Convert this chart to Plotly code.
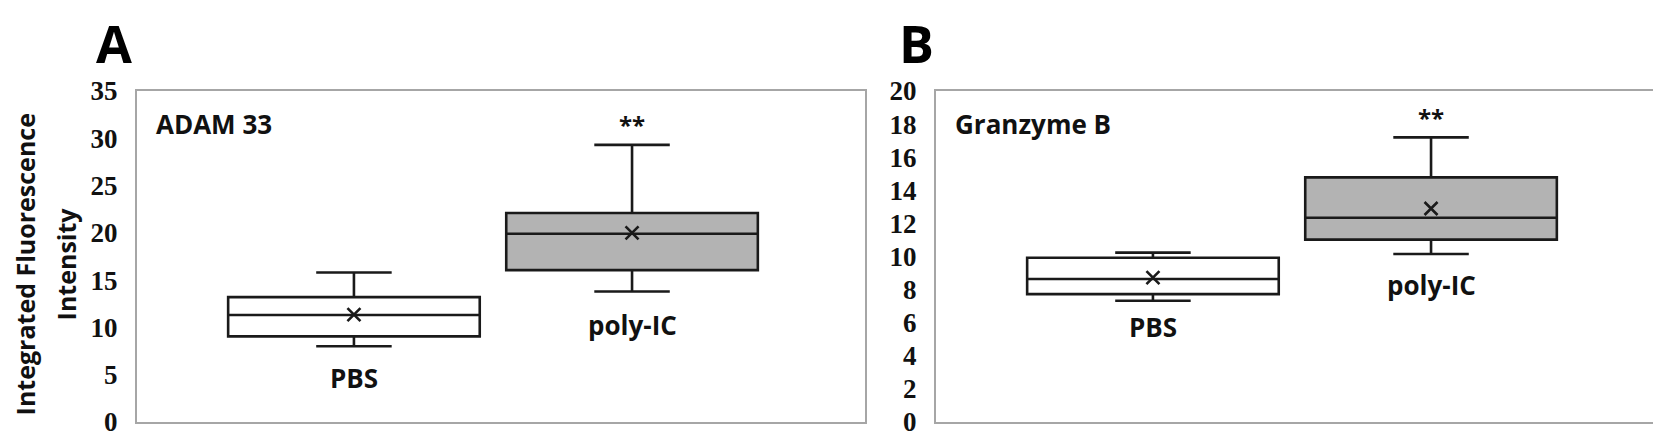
import plotly.graph_objects as go

groups = ["PBS", "poly-IC"]
group_pos = [0.298, 0.68]

# panel A: ADAM 33
adam_low = [8.0, 13.8]
adam_q1 = [9.05, 16.05]
adam_median = [11.3, 19.9]
adam_q3 = [13.2, 22.1]
adam_high = [15.8, 29.3]
adam_mean = [11.35, 20.0]

# panel B: Granzyme B
gzmb_low = [7.32, 10.15]
gzmb_q1 = [7.72, 11.02]
gzmb_median = [8.64, 12.34]
gzmb_q3 = [9.92, 14.78]
gzmb_high = [10.23, 17.2]
gzmb_mean = [8.72, 12.9]

fills = ["white", "#b3b3b3"]

FONT = "Open Sans"
fig = go.Figure()


def add_panel(fig, low, q1, med, q3, high, mean, xa, ya, title, shifts):
    for i, g in enumerate(groups):
        fig.add_trace(go.Box(
            x=[group_pos[i]], lowerfence=[low[i]], q1=[q1[i]], median=[med[i]],
            q3=[q3[i]], upperfence=[high[i]], width=0.3456, whiskerwidth=0.3,
            fillcolor=fills[i], line=dict(color="#1a1a1a", width=2.6),
            boxpoints=False, hoverinfo="skip", xaxis=xa, yaxis=ya, showlegend=False,
        ))
        fig.add_annotation(x=group_pos[i], y=low[i], xref=xa, yref=ya, text=g,
                           showarrow=False, yanchor="middle", yshift=shifts[i],
                           font=dict(family=FONT, size=26, color="#111", weight="bold"))
    fig.add_trace(go.Scatter(
        x=group_pos, y=mean, mode="markers", xaxis=xa, yaxis=ya, showlegend=False,
        marker=dict(symbol="x-thin", size=13, line=dict(color="#1a1a1a", width=2.6)),
        hoverinfo="skip",
    ))
    fig.add_annotation(x=group_pos[1], y=high[1], xref=xa, yref=ya, text="**",
                       showarrow=False, yanchor="middle", yshift=20,
                       font=dict(family=FONT, size=24, color="#111", weight="bold"))
    fig.add_annotation(x=0.024, y=0.9, xref=xa + " domain", yref=ya + " domain",
                       text=title, showarrow=False, xanchor="left", yanchor="middle",
                       font=dict(family=FONT, size=26, color="#111", weight="bold"))


add_panel(fig, adam_low, adam_q1, adam_median, adam_q3, adam_high, adam_mean,
          "x", "y", "ADAM 33", [-32, -34])
add_panel(fig, gzmb_low, gzmb_q1, gzmb_median, gzmb_q3, gzmb_high, gzmb_mean,
          "x2", "y2", "Granzyme B", [-26, -31])

frame = dict(showline=True, mirror=True, linecolor="#a6a6a6", linewidth=2,
             showgrid=False, zeroline=False, ticks="")
tickfont = dict(family="Liberation Serif", size=27, color="#111", weight="bold")

fig.update_layout(
    width=1661, height=441, margin=dict(l=0, r=0, t=0, b=0),
    paper_bgcolor="white", plot_bgcolor="white",
    xaxis=dict(domain=[129 / 1661, 857 / 1661], range=[0, 1], showticklabels=False, **frame),
    xaxis2=dict(domain=[928 / 1661, 1656 / 1661], range=[0, 1], showticklabels=False,
                anchor="y2", **frame),
    yaxis=dict(domain=[1 - 428 / 441, 1 - 73 / 441], range=[0, 35], dtick=5,
               tickfont=tickfont, ticklabelstandoff=12, ticklabeloverflow="allow", **frame),
    yaxis2=dict(domain=[1 - 428 / 441, 1 - 73 / 441], range=[0, 20], dtick=2,
                tickfont=tickfont, ticklabelstandoff=12, ticklabeloverflow="allow",
                anchor="x2", **frame),
)

# panel letters
for letter, xp in [("A", 86), ("B", 889)]:
    fig.add_annotation(x=xp / 1661, y=1 - 21 / 441, xref="paper", yref="paper", text=letter,
                       showarrow=False, xanchor="left", yanchor="middle",
                       font=dict(family=FONT, size=52, color="black", weight="bold"))

# y axis title, two lines
for line, xp in [("Integrated Fluorescence", 17), ("Intensity", 58)]:
    fig.add_annotation(x=xp / 1661, y=1 - 259 / 441, xref="paper", yref="paper", text=line,
                       textangle=-90, showarrow=False, xanchor="center", yanchor="middle",
                       font=dict(family=FONT, size=25, color="#111", weight="bold"))

fig.write_html("out.html")
